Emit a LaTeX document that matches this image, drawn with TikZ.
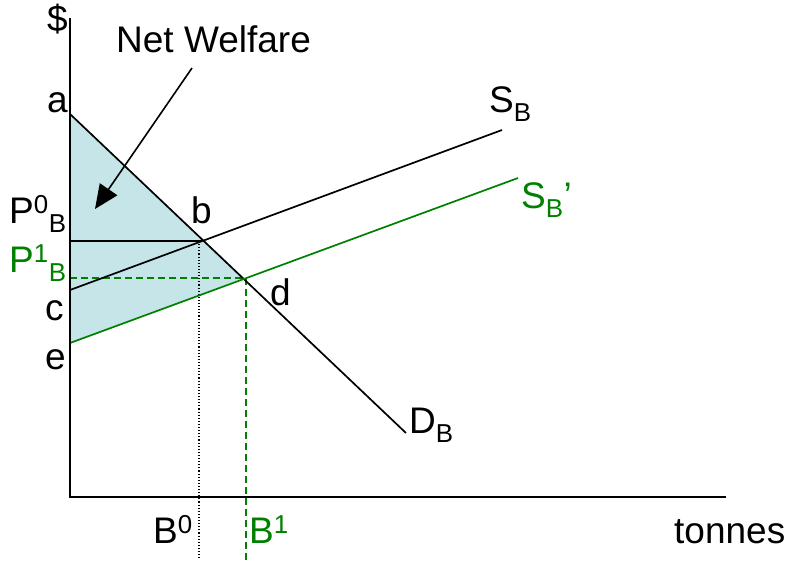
\documentclass[tikz,border=0pt]{standalone}
\usepackage{fontspec}
\setmainfont{Liberation Sans}
\usetikzlibrary{positioning,arrows.meta,calc}
\definecolor{wfgreen}{RGB}{0,128,0}
\definecolor{wfblue}{RGB}{197,229,232}
\tikzset{
  wfaxis/.style={draw=black, line width=1.8pt},
  wfline/.style={draw=black, line width=1.7pt},
  wfgline/.style={draw=wfgreen, line width=1.7pt},
  wflab/.style={anchor=base west, inner sep=0pt, font=\fontsize{37}{41}\selectfont},
  wfglab/.style={wflab, text=wfgreen},
  wfshade/.style={fill=wfblue},
}
\newcommand{\wfSupSub}[3]{#1\textsuperscript{#2}\textsubscript{#3}}

\begin{document}
\begin{tikzpicture}[x=1pt,y=-1pt]
  \useasboundingbox (0,0) rectangle (793,560);
  % points of the graph
  \coordinate (O) at (70,497);
  \coordinate (top) at (70,18);
  \coordinate (right) at (726,497);
  \coordinate (bot) at (0,560);
  \coordinate (a) at (70,114);
  \coordinate (c) at (70,290);
  \coordinate (e) at (70,343);
  \coordinate (Dend) at (406,433);
  \coordinate (Send) at (502,130);
  \coordinate (S1end) at (518,178);
  \coordinate (b) at (202,241);
  \coordinate (d) at (244,278);
  % net welfare area
  \fill[wfshade] (a) -- (d) -- (e) -- cycle;
  % price and quantity guides
  \draw[wfline] (b -| O) -- (b);
  \draw[wfgreen, line width=1.6pt, dash pattern=on 7pt off 4pt] (d -| O) -- (d);
  \draw[black, line width=1.1pt, dotted] ($(b)+(-3,0)$) -- ($(b |- bot)+(-3,0)$);
  \draw[wfgreen, line width=1.6pt, dash pattern=on 7pt off 4pt] ($(d)+(2,0)$) -- ($(d |- bot)+(2,0)$);
  % curves
  \draw[wfline] (a) -- (Dend);
  \draw[wfline] (c) -- (Send);
  \draw[wfgline] (e) -- (S1end);
  % axes
  \draw[wfaxis] (top) -- (O) -- (right);
  % labels
  \node[wflab] (dollar) at (47,31) {\$};
  \node[wflab] (nw) at (116,52) {Net Welfare};
  \coordinate (nwfrom) at (192,68);
  \coordinate (nwto) at (95,209);
  \draw[line width=1.6pt, -{Triangle[length=24pt,width=21pt]}] (nwfrom) -- (nwto);
  \node[wflab] (la) at (47,112) {a};
  \node[wflab] (lb) at (191,223) {b};
  \node[wflab] (lc) at (45,320) {c};
  \node[wflab] (ld) at (270,305) {d};
  \node[wflab] (le) at (45,369) {e};
  \node[wflab] (lP0) at (9,223) {\wfSupSub{P}{0}{B}};
  \node[wfglab] (lP1) at (9,272) {\wfSupSub{P}{1}{B}};
  \node[wflab] (lS) at (489,112) {S\textsubscript{B}};
  \node[wfglab] (lS1) at (521,208) {S\textsubscript{B}'};
  \node[wflab] (lD) at (409,433) {D\textsubscript{B}};
  \node[wflab] (lB0) at (153,543) {B\textsuperscript{0}};
  \node[wfglab] (lB1) at (249,543) {B\textsuperscript{1}};
  \node[wflab] (lton) at (674,543) {tonnes};
\end{tikzpicture}
\end{document}
